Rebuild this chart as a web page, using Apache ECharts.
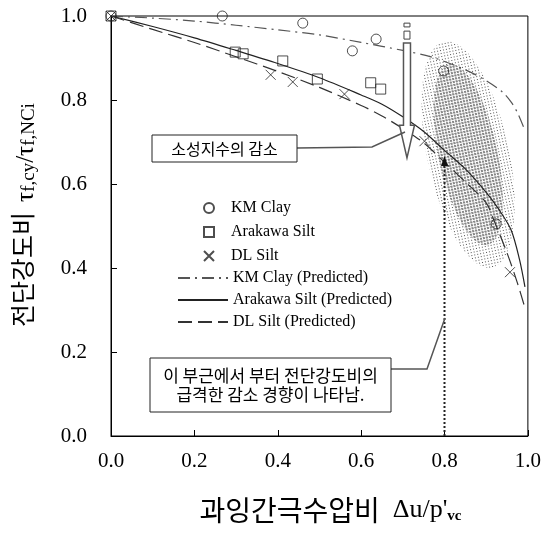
<!DOCTYPE html>
<html><head><meta charset="utf-8">
<script src="https://cdn.jsdelivr.net/npm/echarts@6/dist/echarts.min.js"></script>
<style>html,body{margin:0;padding:0;background:#fff}#c{width:544px;height:533px}</style>
</head><body><div id="c"></div>
<script>
// ---- data ----
const kmClay = [[0,1],[0.267,1.0],[0.46,0.983],[0.579,0.917],[0.636,0.945],[0.798,0.869],[0.924,0.505]];
const arakawaSilt = [[0,1],[0.298,0.914],[0.317,0.91],[0.412,0.893],[0.495,0.85],[0.623,0.841],[0.647,0.826]];
const dlSilt = [[0,1],[0.383,0.86],[0.436,0.843],[0.56,0.814],[0.752,0.702],[0.957,0.39]];
const kmClayPred = [[0,1],[0.1,0.995],[0.2,0.988],[0.3,0.978],[0.4,0.967],[0.5,0.955],[0.6,0.937],[0.7,0.918],[0.77,0.902],[0.85,0.872],[0.9,0.846],[0.94,0.818],[0.96,0.795],[0.975,0.77],[0.99,0.735]];
const arakawaPred = [[0,1],[0.1,0.975],[0.2,0.948],[0.3,0.918],[0.4,0.887],[0.5,0.853],[0.6,0.812],[0.65,0.79],[0.7,0.76],[0.75,0.725],[0.8,0.68],[0.85,0.636],[0.9,0.58],[0.93,0.54],[0.96,0.49],[0.98,0.42],[0.993,0.355]];
const dlPred = [[0,1],[0.1,0.968],[0.2,0.937],[0.3,0.903],[0.4,0.868],[0.5,0.83],[0.6,0.787],[0.65,0.762],[0.7,0.732],[0.75,0.698],[0.8,0.652],[0.85,0.605],[0.9,0.555],[0.92,0.51],[0.95,0.436],[0.975,0.364],[0.993,0.305]];
const legendMarkers = ['KM Clay','Arakawa Silt','DL Silt'];
const legendLines = ['KM Clay (Predicted)','Arakawa Silt (Predicted)','DL Silt (Predicted)'];
// annotation anchors (data coords)
const zoneEllipse = [[0.857, 0.67, 0.275, 0.098, 12]]; // cx, cy, semi-major(y), semi-minor(x), tilt deg
const bigArrow = [[0.71, 0.936, 0.74, 0.662]]; // x, shaft top, head base, tip
const arrowTail = [[0.71, 0.983, 0.974],[0.71, 0.964, 0.945]];
const dottedMark = [[0.8, 0],[0.8, 0.655]];
const note1 = '소성지수의 감소';
const note2 = '이 부근에서 부터 전단강도비의\n급격한 감소 경향이 나타남.';

function makePattern(dot, color){
  const c = document.createElement('canvas'); c.width = 3; c.height = 3;
  const g = c.getContext('2d'); g.fillStyle = color; g.fillRect(0,0,dot,dot);
  return {image: c, repeat: 'repeat'};
}
const patOuter = makePattern(1, '#555');
const patInner = makePattern(2, '#888');

const serif = 'Liberation Serif';
const kr = 'Noto Sans CJK KR';
const chart = echarts.init(document.getElementById('c'));
const markerStyle = {color:'rgba(255,255,255,0)', borderColor:'#222', borderWidth:1};

chart.setOption({
  animation:false,
  grid:{left:111, top:16, width:420, height:420, show:true, borderColor:'#000', borderWidth:1, backgroundColor:'transparent'},
  xAxis:{type:'value', min:0, max:1, interval:0.2,
    axisLine:{lineStyle:{color:'#000', width:1}},
    axisTick:{inside:true, length:6, lineStyle:{color:'#000'}},
    splitLine:{show:false},
    axisLabel:{margin:15, color:'#000', fontFamily:serif, fontSize:21, formatter:v=>v.toFixed(1)},
    name:'{k|과잉간극수압비}{g|Δu/p\'}{s|vc}', nameLocation:'middle', nameGap:60,
    nameTextStyle:{padding:[0,0,0,22], rich:{
      k:{fontFamily:kr, fontSize:28, color:'#000', padding:[0,13,0,0]},
      g:{fontFamily:serif, fontSize:26, color:'#000'},
      s:{fontFamily:serif, fontSize:15, fontWeight:'bold', color:'#000', verticalAlign:'bottom'}
    }}
  },
  yAxis:{type:'value', min:0, max:1, interval:0.2,
    axisLine:{lineStyle:{color:'#000', width:1}},
    axisTick:{inside:true, length:6, lineStyle:{color:'#000'}},
    splitLine:{show:false},
    axisLabel:{margin:24, color:'#000', fontFamily:serif, fontSize:21, formatter:v=>v.toFixed(1)},
    name:'{k|전단강도비}{g|τ}{s|f,cy}{g|/τ}{s|f,NCi}', nameLocation:'middle', nameGap:72,
    nameTextStyle:{padding:[0,0,0,22], rich:{
      k:{fontFamily:kr, fontSize:25, color:'#000', lineHeight:34, padding:[0,10,0,0]},
      g:{fontFamily:serif, fontSize:25, color:'#000', verticalAlign:'bottom', lineHeight:34},
      s:{fontFamily:serif, fontSize:19, color:'#000', verticalAlign:'bottom', lineHeight:30}
    }}
  },
  legend:[
    {data:legendMarkers, orient:'vertical', left:203, top:200, padding:0, itemWidth:10, itemHeight:10, itemGap:8,
      textStyle:{fontFamily:serif, fontSize:16, color:'#000', lineHeight:16, padding:[0,0,0,12]}},
    {data:legendLines, orient:'vertical', left:177, top:270, padding:0, itemWidth:50, itemHeight:10, itemGap:6,
      itemStyle:{opacity:0},
      textStyle:{fontFamily:serif, fontSize:16, color:'#000', lineHeight:16}}
  ],
  graphic:[
    {type:'polyline', shape:{points:[[297,148],[372,147],[405,132]]}, style:{stroke:'#555', lineWidth:1.5, fill:null}, z:50},
    {type:'rect', shape:{x:152, y:135, width:145, height:27}, style:{fill:'#fff', stroke:'#222', lineWidth:1}, z:50},
    {type:'text', x:224.5, y:148.5, style:{text:note1, fontFamily:kr, fontSize:16, fill:'#000', align:'center', verticalAlign:'middle'}, z:51},
    {type:'polyline', shape:{points:[[391,369],[427,369],[445,318]]}, style:{stroke:'#555', lineWidth:1.5, fill:null}, z:50},
    {type:'rect', shape:{x:150, y:358, width:241, height:54}, style:{fill:'#fff', stroke:'#222', lineWidth:1}, z:50},
    {type:'text', x:270.5, y:385, style:{text:note2, fontFamily:kr, fontSize:17, lineHeight:19, fill:'#000', align:'center', verticalAlign:'middle'}, z:51}
  ],
  series:[
    {type:'custom', name:'zone', z:1, silent:true, data:zoneEllipse,
      renderItem:(p, api)=>{
        const c = api.coord([api.value(0), api.value(1)]);
        const sx = api.size([1,0])[0], sy = api.size([0,1])[1];
        const a = api.value(2)*sy, b = api.value(3)*sx, r = api.value(4)*Math.PI/180;
        return {type:'group', x:c[0], y:c[1], rotation:r, children:[
          {type:'ellipse', shape:{cx:0, cy:0, rx:b, ry:a}, style:{fill:patOuter}},
          {type:'ellipse', shape:{cx:0, cy:0, rx:b*0.72, ry:a*0.8}, style:{fill:patInner}}
        ]};
      }},
    {type:'line', name:'KM Clay (Predicted)', data:kmClayPred, smooth:0.3, symbol:'none', z:3,
      lineStyle:{color:'#555', width:1.2, type:[12,5,2,5]}, itemStyle:{color:'#555'}},
    {type:'line', name:'Arakawa Silt (Predicted)', data:arakawaPred, smooth:0.3, symbol:'none', z:3,
      lineStyle:{color:'#222', width:1.2, type:'solid'}, itemStyle:{color:'#222'}},
    {type:'line', name:'DL Silt (Predicted)', data:dlPred, smooth:0.3, symbol:'none', z:3,
      lineStyle:{color:'#333', width:1.2, type:[14,6]}, itemStyle:{color:'#333'}},
    {type:'line', name:'dotted', data:dottedMark, z:4, silent:true,
      lineStyle:{color:'#222', width:2, type:[2,2]},
      symbol:(v)=> v[1] > 0 ? 'triangle' : 'none', symbolSize:[7,10], itemStyle:{color:'#111'}},
    {type:'scatter', name:'KM Clay', data:kmClay, symbol:'circle', symbolSize:10, clip:false, z:5, itemStyle:markerStyle},
    {type:'scatter', name:'Arakawa Silt', data:arakawaSilt, symbol:'rect', symbolSize:10, clip:false, z:5, itemStyle:markerStyle},
    {type:'scatter', name:'DL Silt', data:dlSilt, symbol:'path://M0,0L10,10M10,0L0,10', symbolSize:10, clip:false, z:5, itemStyle:markerStyle},
    {type:'custom', name:'arrow', z:10, silent:true, data:bigArrow,
      renderItem:(p, api)=>{
        const t = api.coord([api.value(0), api.value(1)]);
        const h = api.coord([api.value(0), api.value(2)]);
        const tp = api.coord([api.value(0), api.value(3)]);
        const cx = t[0], w = 3.5, hw = 7.5;
        return {type:'polygon', shape:{points:[[cx-w,t[1]],[cx+w,t[1]],[cx+w,h[1]],[cx+hw,h[1]],[cx,tp[1]],[cx-hw,h[1]],[cx-w,h[1]]]},
          style:{fill:'#fff', stroke:'#555', lineWidth:1.5}};
      }},
    {type:'custom', name:'arrowTail', z:10, silent:true, data:arrowTail,
      renderItem:(p, api)=>{
        const a = api.coord([api.value(0), api.value(1)]);
        const b = api.coord([api.value(0), api.value(2)]);
        return {type:'rect', shape:{x:a[0]-3, y:a[1], width:6, height:b[1]-a[1]}, style:{fill:'#fff', stroke:'#444', lineWidth:1}};
      }}
  ]
});
</script></body></html>
